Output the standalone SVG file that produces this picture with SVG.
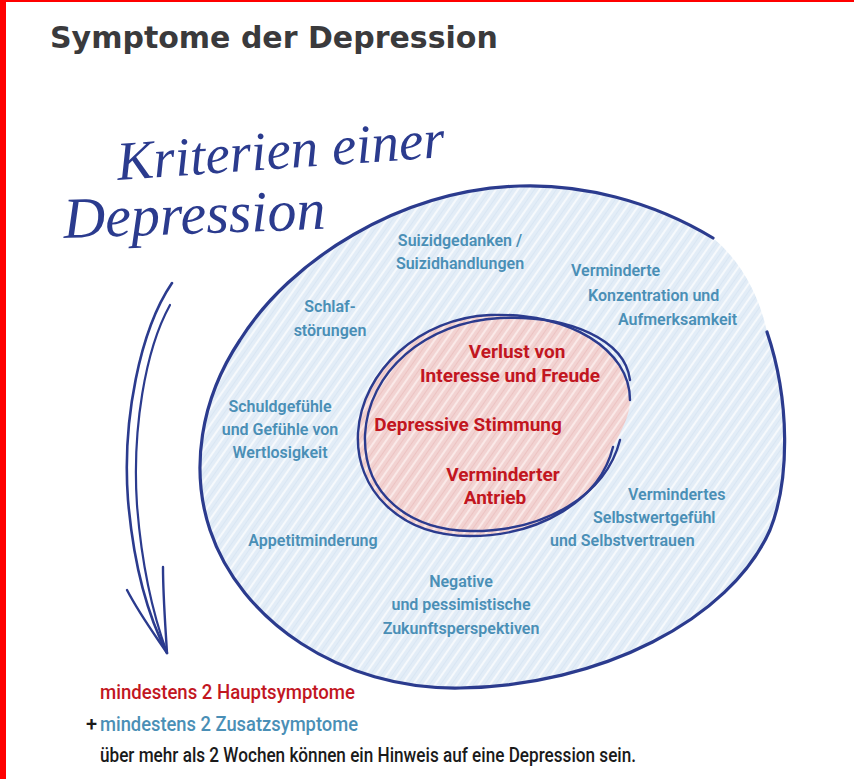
<svg xmlns="http://www.w3.org/2000/svg" width="854" height="779" viewBox="0 0 854 779">
<defs>
<pattern id="hatchBlue" patternUnits="userSpaceOnUse" width="9" height="9" patternTransform="rotate(-55)">
<rect width="9" height="9" fill="#e3edf7"/>
<line x1="0" y1="2" x2="9" y2="2" stroke="#ffffff" stroke-width="1.6" opacity="0.85"/>
<line x1="0" y1="6.5" x2="9" y2="6.5" stroke="#cfdff0" stroke-width="0.8" opacity="0.7"/>
</pattern>
<pattern id="hatchRed" patternUnits="userSpaceOnUse" width="9" height="9" patternTransform="rotate(-55)">
<rect width="9" height="9" fill="#f2d3d2"/>
<line x1="0" y1="2" x2="9" y2="2" stroke="#fbeeee" stroke-width="1.8" opacity="0.9"/>
<line x1="0" y1="6.5" x2="9" y2="6.5" stroke="#e9b9b9" stroke-width="0.9" opacity="0.7"/>
</pattern>
</defs>
<style>
.ink{fill:none;stroke:#2b3b8e;stroke-linecap:round;stroke-linejoin:round}
.hand{font-family:"Liberation Serif",serif;font-style:italic;fill:#2b3b8e}
.blue{font-family:Roboto,"Liberation Sans",sans-serif;font-weight:600;font-size:16px;fill:#4a8fb6}
.red{font-family:Roboto,"Liberation Sans",sans-serif;font-weight:700;font-size:19px;fill:#c2161f}
.foot{font-family:Roboto,"Liberation Sans",sans-serif;font-size:20px;font-weight:500}
</style>
<rect width="854" height="779" fill="#ffffff"/>
<rect x="0" y="0" width="6" height="779" fill="#ff0000"/>
<rect x="0" y="0" width="854" height="2" fill="#ff0000"/>
<text x="50" y="48" font-family="'DejaVu Sans',Verdana,sans-serif" font-weight="bold" font-size="30" fill="#3a3a3c">Symptome der Depression</text>

<g id="outer-circle">
<path d="M 713 238 C 650 200 580 184 520 186 C 400 190 290 260 240 340 C 200 400 190 470 210 530 C 240 620 340 690 460 688 C 600 686 730 620 770 530 C 790 480 790 400 767 332 C 760 298 742 262 713 238 Z" fill="url(#hatchBlue)"/>
<path class="ink" stroke-width="3.2" d="M 713 238 C 650 200 580 184 520 186 C 400 190 290 260 240 340 C 200 400 190 470 210 530 C 240 620 340 690 460 688 C 600 686 730 620 770 530 C 790 480 790 400 767 332"/>
</g>

<g id="inner-circle">
<path d="M 630 400 C 630 350 570 312 490 315 C 420 318 362 370 358 433 C 355 490 400 536 470 536 C 540 536 600 500 613 447 C 622 430 630 415 630 400 Z" fill="url(#hatchRed)"/>
<path class="ink" stroke-width="2.4" d="M 613 447 C 600 500 540 536 470 536 C 400 536 355 490 358 433 C 362 370 420 318 490 315 C 570 312 630 350 630 400"/>
<path class="ink" stroke-width="2.4" d="M 630 380 C 625 340 570 315 500 318 C 425 322 368 372 365 435 C 363 495 410 530 470 531 C 545 532 606 495 620 440"/>
</g>

<g id="handwriting">
<text class="hand" x="118" y="180" font-size="55" transform="rotate(-4 118 180)">Kriterien einer</text>
<text class="hand" x="64" y="238" font-size="58" transform="rotate(-2 64 238)">Depression</text>
</g>

<g id="connectors">
<path class="ink" stroke-width="2.6" d="M 172 283 C 140 330 122 420 128 500 C 134 570 150 620 167 653"/>
<path class="ink" stroke-width="2.2" d="M 170 305 C 145 350 132 430 137 505 C 142 570 155 620 167 653"/>
<path class="ink" stroke-width="2.4" d="M 127 590 C 140 615 155 635 167 653 C 165 620 163 595 163 567"/>
</g>

<g id="node-suizid" class="blue" text-anchor="middle">
<text x="460" y="246">Suizidgedanken /</text>
<text x="460" y="269">Suizidhandlungen</text>
</g>
<g id="node-schlaf" class="blue" text-anchor="middle">
<text x="330" y="312">Schlaf-</text>
<text x="330" y="336">störungen</text>
</g>
<g id="node-konzentration" class="blue">
<text x="571" y="276">Verminderte</text>
<text x="588" y="301">Konzentration und</text>
<text x="618" y="325">Aufmerksamkeit</text>
</g>
<g id="node-schuld" class="blue" text-anchor="middle">
<text x="280" y="412">Schuldgefühle</text>
<text x="280" y="435">und Gefühle von</text>
<text x="280" y="458">Wertlosigkeit</text>
</g>
<g id="node-appetit" class="blue" text-anchor="middle">
<text x="313" y="546">Appetitminderung</text>
</g>
<g id="node-negativ" class="blue" text-anchor="middle">
<text x="461" y="587">Negative</text>
<text x="461" y="610">und pessimistische</text>
<text x="461" y="634">Zukunftsperspektiven</text>
</g>
<g id="node-selbstwert" class="blue">
<text x="628" y="500">Vermindertes</text>
<text x="593" y="523">Selbstwertgefühl</text>
<text x="550" y="546">und Selbstvertrauen</text>
</g>

<g id="node-interesse" class="red" text-anchor="middle">
<text x="517" y="358">Verlust von</text>
<text x="510" y="382">Interesse und Freude</text>
</g>
<g id="node-stimmung" class="red" text-anchor="middle">
<text x="468" y="431">Depressive Stimmung</text>
</g>
<g id="node-antrieb" class="red" text-anchor="middle">
<text x="503" y="481">Verminderter</text>
<text x="495" y="504">Antrieb</text>
</g>

<g id="footer" class="foot">
<text x="100" y="699" fill="#c2161f" textLength="255" lengthAdjust="spacingAndGlyphs">mindestens 2 Hauptsymptome</text>
<text x="86" y="731" fill="#1a1a1a">+</text>
<text x="100" y="731" fill="#4a8fb6" textLength="258" lengthAdjust="spacingAndGlyphs">mindestens 2 Zusatzsymptome</text>
<text x="100" y="762" fill="#1a1a1a" textLength="536" lengthAdjust="spacingAndGlyphs">über mehr als 2 Wochen können ein Hinweis auf eine Depression sein.</text>
</g>
</svg>
